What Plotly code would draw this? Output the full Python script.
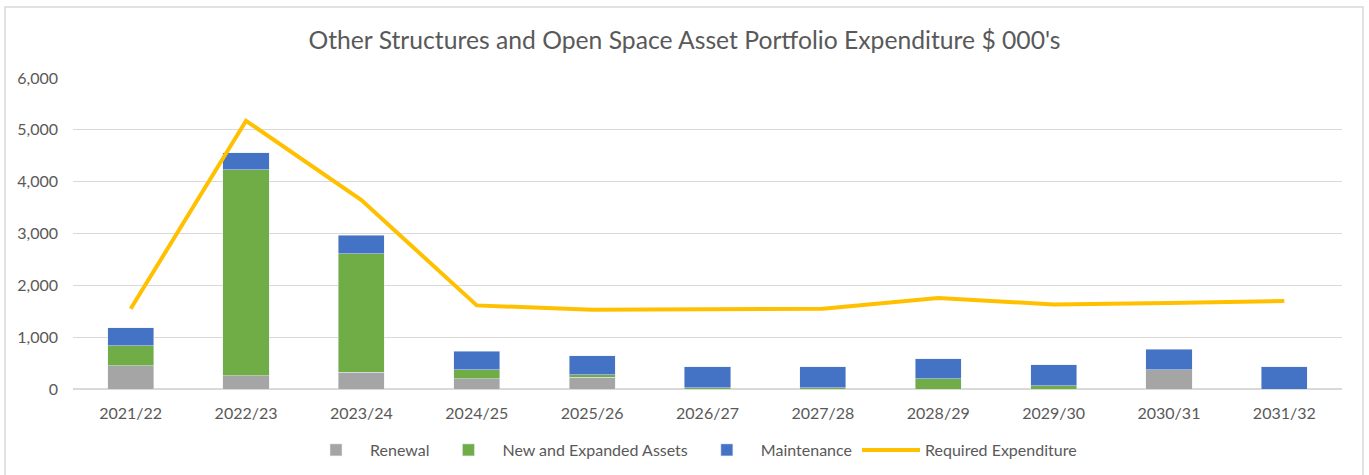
import plotly.graph_objects as go

years = ["2021/22", "2022/23", "2023/24", "2024/25", "2025/26", "2026/27",
         "2027/28", "2028/29", "2029/30", "2030/31", "2031/32"]
renewal = [452, 258, 323, 194, 226, 0, 0, 0, 0, 368, 0]
new_expanded = [387, 3968, 2290, 174, 45, 20, 20, 194, 65, 0, 0]
maintenance = [342, 335, 355, 361, 368, 406, 406, 393, 400, 400, 426]
required = [1548, 5174, 3645, 1613, 1529, 1529, 1548, 1755, 1632, 1658, 1697]

FONT = "Lato"
GREY_TXT = "#595959"

# plot area in pixels (matches the reference)
L, R, T, B = 73, 1342, 78, 389
PW, PH = R - L, B - T

fig = go.Figure()
fig.add_trace(go.Bar(x=years, y=renewal, name="Renewal", marker_color="#A5A5A5"))
fig.add_trace(go.Bar(x=years, y=new_expanded, name="New and Expanded Assets", marker_color="#70AD47"))
fig.add_trace(go.Bar(x=years, y=maintenance, name="Maintenance", marker_color="#4472C4"))
fig.add_trace(go.Scatter(x=years, y=required, name="Required Expenditure", mode="lines",
                         line=dict(color="#FFC000", width=4)))

# outer chart border like the Excel chart area
fig.add_shape(type="rect", xref="paper", yref="paper",
              x0=(5 - L) / PW, x1=(1363 - L) / PW,
              y0=(B - 490) / PH, y1=(B - 7) / PH,
              line=dict(color="#d9d9d9", width=1.5), layer="below")

fig.update_layout(
    width=1369, height=475,
    barmode="stack", bargap=0.6,
    plot_bgcolor="white", paper_bgcolor="white",
    margin=dict(l=L, r=1369 - R, t=T, b=475 - B, autoexpand=False),
    font=dict(family=FONT, color=GREY_TXT, size=16),
    title=dict(text="Other Structures and Open Space Asset Portfolio Expenditure $ 000's",
               x=0.5, xanchor="center", y=1 - 40 / 475, yanchor="middle",
               font=dict(size=24.7, color=GREY_TXT, family=FONT)),
    legend=dict(orientation="h", x=(692 - L) / PW, xanchor="center",
                y=(B - 450) / PH, yanchor="middle", itemwidth=58,
                font=dict(size=16, color=GREY_TXT), traceorder="normal"),
    xaxis=dict(showline=True, linecolor="#d9d9d9", ticks="", tickfont=dict(size=16),
               ticklabelstandoff=10),
    yaxis=dict(range=[0, 6000], dtick=1000, tickformat=",", gridcolor="#d9d9d9",
               zeroline=True, zerolinecolor="#d9d9d9", ticks="", tickfont=dict(size=16),
               ticklabelstandoff=14),
)

fig.write_html("out.html", config={"displayModeBar": False},
               post_script="document.body.style.margin='0';")
